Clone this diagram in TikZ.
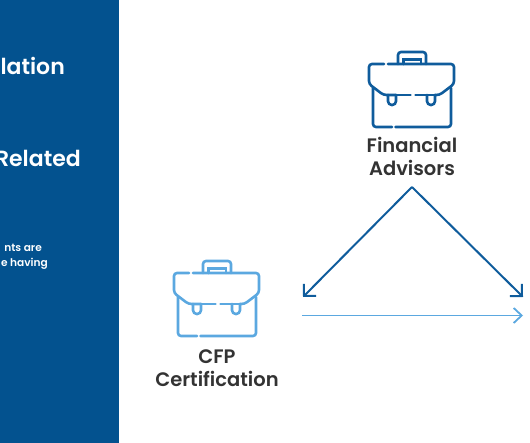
\documentclass[tikz,border=0pt]{standalone}
\usepackage{fontspec}
\setmainfont{Poppins SemiBold}
\usetikzlibrary{arrows.meta,positioning}
\definecolor{panelblue}{HTML}{03528F}
\definecolor{darkblue}{HTML}{0F5C9C}
\definecolor{skyblue}{HTML}{5BA8E0}
\definecolor{inkgrey}{HTML}{333333}
\tikzset{
  panel/.style  ={fill=panelblue,draw=none},
  bigtxt/.style ={text=white,font=\fontsize{22}{24}\selectfont,inner sep=0pt,anchor=base east},
  smalltxt/.style={text=white,font=\fontsize{10.6}{12}\selectfont,inner sep=0pt,anchor=base east},
  lbl/.style    ={text=inkgrey,font=\fontsize{19.5}{23}\selectfont,align=center,inner sep=0pt},
  ad/.style     ={-{Straight Barb[length=8.5pt,width=17pt]},line width=2pt,darkblue},
  al/.style     ={-{Straight Barb[length=8pt,width=15pt]},line width=1.8pt,skyblue},
  % briefcase, drawn around its centre
  case/.pic={
    \begin{scope}[line width=2.6pt,line cap=round,rounded corners=3pt]
      \draw (-27.5,-26) -- (-42.5,-26) -- (-42.5,-6) -- (-28,5) -- (-15.5,5);
      \draw[rounded corners=3.8pt] (-23.5,5) -- (-23.5,15) -- (-15.5,15) -- (-15.5,5);
      \draw (-15.5,5) -- (-1,5);
      \draw (4,5) -- (23.5,5);
      \draw[rounded corners=3.8pt] (15.5,5) -- (15.5,15) -- (23.5,15) -- (23.5,5);
      \draw (23.5,5) -- (28,5) -- (42.5,-6) -- (42.5,-26) -- (-23.5,-26);
      \draw (-38.5,-2) -- (-38.5,37) -- (-19.5,37);
      \draw (-16,37) -- (39.5,37) -- (39.5,-2);
      \draw (-13.5,-26) -- (-13.5,-38) -- (14.5,-38) -- (14.5,-26);
      \draw[rounded corners=0pt] (-8,-26) -- (-8,-30.5) -- (9.5,-30.5) -- (9.5,-26);
    \end{scope}
  },
}
\begin{document}
\begin{tikzpicture}[x=1pt,y=-1pt]
  \useasboundingbox (0,0) rectangle (530,443);
  % left panel
  \node[panel,minimum width=119pt,minimum height=443pt,inner sep=0pt,anchor=north west] (side) at (0,0) {};
  \node[bigtxt] (t1) at (65,75) {lation};
  \node[bigtxt] (t2) at (81,166.5) {Related};
  \node[smalltxt] (t3) at (42,252) {nts are};
  \node[smalltxt] (t4) at (48,267) {e having};

  % icons and their labels
  \pic[darkblue] (adv) at (411.5,90) {case};
  \node[lbl] (fa) at (412,156.5) {Financial\\Advisors};
  \pic[skyblue] (cfp) at (216.5,299) {case};
  \node[lbl] (cc) at (217,368) {CFP\\Certification};

  % arrows
  \coordinate (apex) at (412,187);
  \coordinate (lft) at (303,297);
  \coordinate (rgt) at (523,297);
  \coordinate (lo1) at (302,315.5);
  \coordinate (lo2) at (523,315.5);
  \draw[ad] (apex) -- (lft);
  \draw[ad] (apex) -- (rgt);
  \draw[al] (lo1) -- (lo2);
\end{tikzpicture}
\end{document}
